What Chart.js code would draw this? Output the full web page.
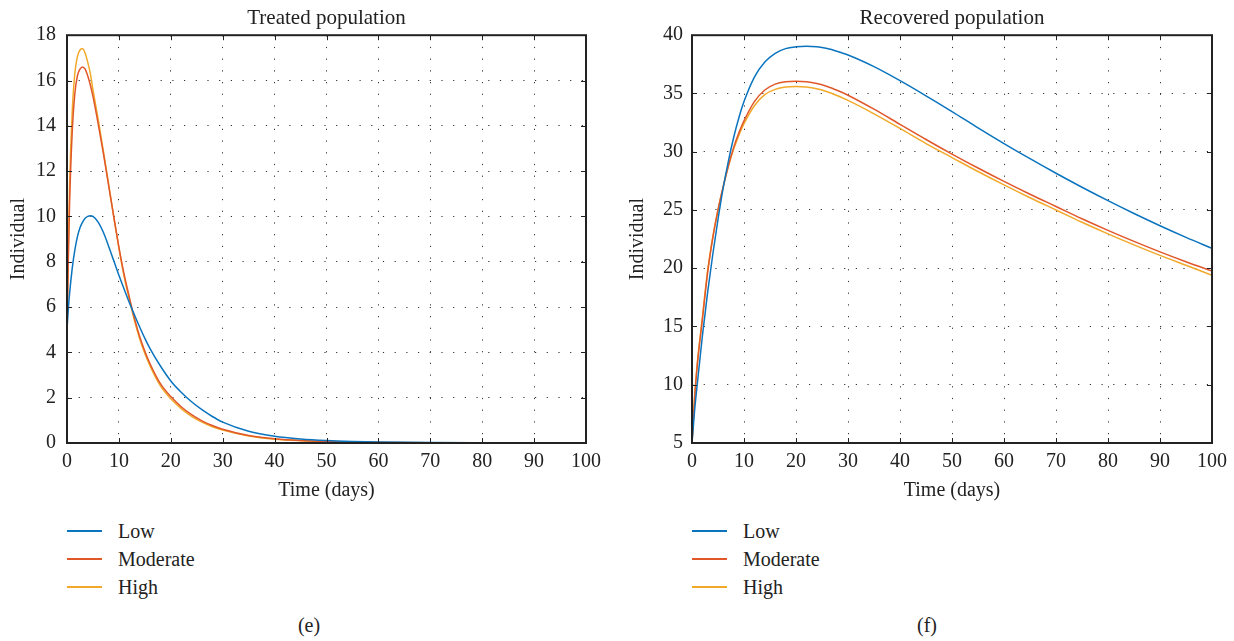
<!DOCTYPE html>
<html>
<head>
<meta charset="utf-8">
<script src="https://cdn.jsdelivr.net/npm/chart.js@4.4.1/dist/chart.umd.min.js"></script>
<style>
  body { margin: 0; background: #fff; }
  #wrap { position: relative; width: 1234px; height: 641px; font-family: "Liberation Serif", serif; color: #222; }
  .box { position: absolute; top: 0; width: 617px; height: 510px; }
  .leg { position: absolute; font-size: 20px; }
  .leg div { position: relative; height: 28px; line-height: 28px; padding-left: 51px; }
  .leg span { position: absolute; left: 0; top: 13px; width: 35px; height: 1.5px; }
  .cap { position: absolute; top: 614px; font-size: 20px; transform: translateX(-50%); }
</style>
</head>
<body>
<div id="wrap">
  <div class="box" style="left:0"><canvas id="treatedChart" width="617" height="510"></canvas></div>
  <div class="box" style="left:617px"><canvas id="recoveredChart" width="617" height="510"></canvas></div>
  <div class="leg" id="legLeft" style="left:67px; top:517px"></div>
  <div class="leg" id="legRight" style="left:692px; top:517px"></div>
  <div class="cap" style="left:309px">(e)</div>
  <div class="cap" style="left:927px">(f)</div>
</div>
<script>
// series names + colours
const seriesNames = ["Low", "Moderate", "High"];
const seriesColors = ["#0A74BF", "#E0582A", "#F2A92A"];

// treated population (e)
const treatedDays = [0, 0.25, 0.5, 1, 1.5, 2, 2.5, 3, 3.5, 4, 4.5, 5, 6, 7, 8, 9, 10, 11, 12, 13,
  14, 15, 16, 18, 20, 22, 24, 26, 28, 30, 35, 40, 45, 50, 55, 60, 70, 80, 90, 100];
const treatedLow = [5, 5.9, 6.6, 7.7, 8.5, 9.1, 9.5, 9.75, 9.92, 10.0, 10.03, 10.0, 9.75, 9.3, 8.7, 8.05, 7.4, 6.8, 6.2, 5.65,
  5.12, 4.62, 4.17, 3.4, 2.74, 2.24, 1.82, 1.47, 1.17, 0.92, 0.52, 0.3, 0.18, 0.11, 0.07, 0.045, 0.018, 0.007, 0.003, 0.001];
const treatedModerate = [5, 8.0, 10.6, 13.7, 15.4, 16.2, 16.5, 16.6, 16.5, 16.2, 15.8, 15.3, 14.1, 12.8, 11.4, 10.0, 8.65, 7.45, 6.45, 5.5,
  4.7, 4.05, 3.5, 2.62, 2.05, 1.6, 1.25, 0.98, 0.77, 0.61, 0.33, 0.19, 0.11, 0.065, 0.04, 0.024, 0.009, 0.003, 0.001, 0];
const treatedHigh = [5, 8.4, 11.4, 14.6, 16.3, 17.05, 17.35, 17.4, 17.2, 16.8, 16.3, 15.6, 14.3, 12.9, 11.45, 10.0, 8.6, 7.35, 6.35, 5.4,
  4.6, 3.95, 3.4, 2.52, 1.95, 1.52, 1.18, 0.92, 0.72, 0.57, 0.31, 0.17, 0.1, 0.058, 0.034, 0.02, 0.007, 0.002, 0.001, 0];

// recovered population (f)
const recoveredDays = [0, 0.5, 1, 2, 3, 4, 5, 6, 7, 8, 9, 10, 12, 14, 16, 18, 20, 22, 24, 26,
  28, 30, 35, 40, 45, 50, 55, 60, 65, 70, 75, 80, 85, 90, 95, 100];
const recoveredLow = [5, 7.8, 10, 14.2, 17.9, 21.2, 24.2, 26.9, 29.2, 31.2, 32.9, 34.3, 36.4, 37.7, 38.45, 38.85, 39.0, 39.05, 39.0, 38.85,
  38.6, 38.3, 37.3, 36.1, 34.8, 33.45, 32.05, 30.7, 29.4, 28.15, 26.95, 25.8, 24.7, 23.65, 22.65, 21.7];
const recoveredModerate = [5, 8.8, 11.6, 15.6, 19.6, 22.6, 25.0, 27.0, 28.8, 30.35, 31.6, 32.65, 34.3, 35.3, 35.8, 36.0, 36.05, 36.0, 35.85, 35.6,
  35.25, 34.85, 33.65, 32.35, 31.05, 29.8, 28.6, 27.45, 26.35, 25.3, 24.25, 23.25, 22.3, 21.4, 20.55, 19.75];
const recoveredHigh = [5, 9.0, 11.8, 15.8, 19.8, 22.7, 25.0, 27.0, 28.75, 30.2, 31.4, 32.4, 33.95, 34.9, 35.35, 35.55, 35.6, 35.55, 35.4, 35.15,
  34.8, 34.4, 33.25, 32.0, 30.7, 29.5, 28.3, 27.15, 26.05, 25.0, 23.95, 22.95, 22.0, 21.1, 20.25, 19.4];

const FONT = "'Liberation Serif', serif";
const INK = "#222";

// box round the plot with inward ticks on all four sides
const frameBox = {
  id: "frameBox",
  afterDatasetsDraw(chart) {
    const { ctx, chartArea: a, scales } = chart;
    ctx.save();
    ctx.strokeStyle = INK;
    ctx.lineWidth = 1;
    ctx.beginPath();
    scales.x.ticks.forEach((t) => {
      const px = Math.round(scales.x.getPixelForValue(t.value)) + 0.5;
      ctx.moveTo(px, a.bottom); ctx.lineTo(px, a.bottom - 5);
      ctx.moveTo(px, a.top); ctx.lineTo(px, a.top + 5);
    });
    scales.y.ticks.forEach((t) => {
      const py = Math.round(scales.y.getPixelForValue(t.value)) + 0.5;
      ctx.moveTo(a.left, py); ctx.lineTo(a.left + 5, py);
      ctx.moveTo(a.right, py); ctx.lineTo(a.right - 5, py);
    });
    ctx.stroke();
    ctx.lineWidth = 2;
    ctx.strokeRect(a.left, a.top, a.right - a.left, a.bottom - a.top);
    ctx.restore();
  },
};

function makeDatasets(days, lists) {
  return lists.map((vals, i) => ({
    label: seriesNames[i],
    data: days.map((d, j) => ({ x: d, y: vals[j] })),
    borderColor: seriesColors[i],
    borderWidth: 1.5,
    pointRadius: 0,
    cubicInterpolationMode: "monotone",
    fill: false,
  }));
}

function drawChart(canvasId, title, days, lists, yMin, yMax, yStep, yWidth, yTitlePad, yTickPad, rightPad) {
  const ctx = document.getElementById(canvasId).getContext("2d");
  new Chart(ctx, {
    type: "line",
    data: { datasets: makeDatasets(days, lists) },
    options: {
      responsive: false,
      devicePixelRatio: 1,
      animation: false,
      layout: { padding: { left: 0, right: rightPad, top: 0, bottom: 0 } },
      plugins: {
        legend: { display: false },
        tooltip: { enabled: false },
        title: {
          display: true,
          text: title,
          fullSize: false,
          color: INK,
          font: { family: FONT, size: 21, weight: "normal" },
          padding: { top: 6, bottom: 4 },
        },
      },
      scales: {
        x: {
          type: "linear",
          min: 0,
          max: 100,
          ticks: { stepSize: 10, color: INK, padding: 7, maxRotation: 0, font: { family: FONT, size: 20 } },
          grid: { color: "#333", lineWidth: 1, drawTicks: false },
          border: { display: false, dash: [1.2, 10.5] },
          title: { display: true, text: "Time (days)", color: INK, padding: { top: 0, bottom: 7 }, font: { family: FONT, size: 20 } },
          afterFit: (s) => { s.height = 67; },
        },
        y: {
          min: yMin,
          max: yMax,
          ticks: { stepSize: yStep, color: INK, padding: yTickPad, font: { family: FONT, size: 20 } },
          grid: { color: "#333", lineWidth: 1, drawTicks: false },
          border: { display: false, dash: [1.2, 10.5] },
          title: { display: true, text: "Individual", color: INK, padding: { top: yTitlePad, bottom: 0 }, font: { family: FONT, size: 20 } },
          afterFit: (s) => { s.width = yWidth; },
        },
      },
    },
    plugins: [frameBox],
  });
}

function buildLegend(id) {
  document.getElementById(id).innerHTML = seriesNames
    .map((n, i) => `<div><span style="background:${seriesColors[i]}"></span>${n}</div>`)
    .join("");
}

drawChart("treatedChart", "Treated population", treatedDays,
  [treatedLow, treatedModerate, treatedHigh], 0, 18, 2, 67, 6.5, 11, 31);
drawChart("recoveredChart", "Recovered population", recoveredDays,
  [recoveredLow, recoveredModerate, recoveredHigh], 5, 40, 5, 75, 9, 9, 22);
buildLegend("legLeft");
buildLegend("legRight");
</script>
</body>
</html>
